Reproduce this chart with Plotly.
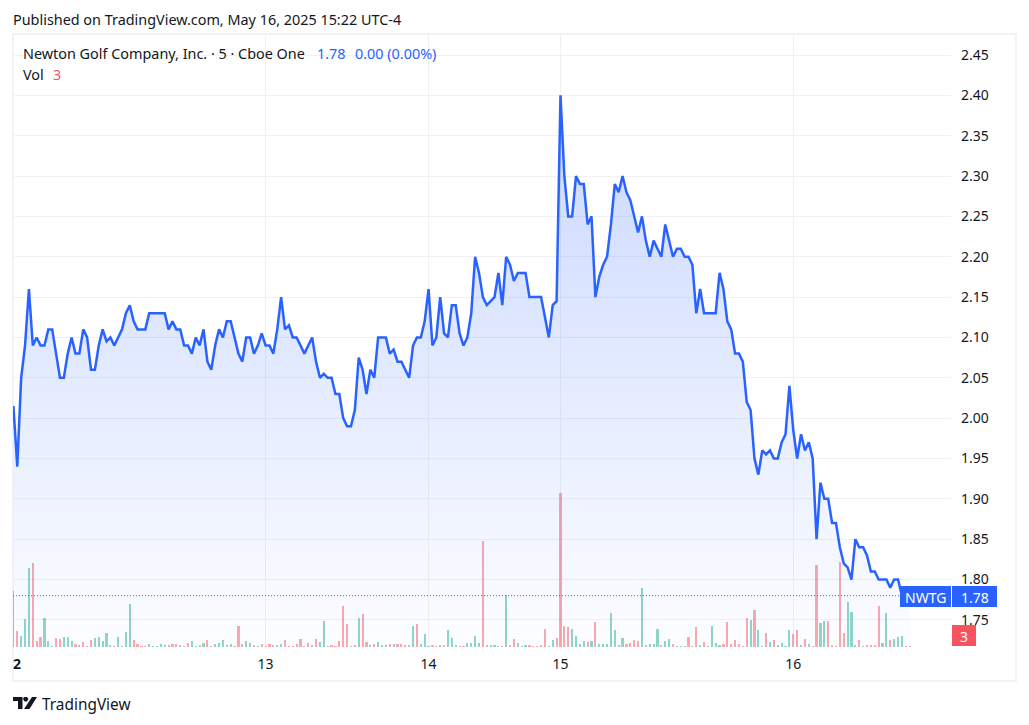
import plotly.graph_objects as go

W, H = 1029, 725

# 5 minute closes, May 12 to May 16
prices = [
    2.015, 1.94, 2.05, 2.09, 2.16, 2.09, 2.10, 2.09, 2.09, 2.11,
    2.11, 2.08, 2.05, 2.05, 2.08, 2.10, 2.08, 2.08, 2.11, 2.10,
    2.06, 2.06, 2.09, 2.11, 2.095, 2.10, 2.09, 2.10, 2.11, 2.13,
    2.14, 2.12, 2.11, 2.11, 2.11, 2.13, 2.13, 2.13, 2.13, 2.13,
    2.11, 2.12, 2.11, 2.11, 2.09, 2.09, 2.08, 2.10, 2.09, 2.11,
    2.07, 2.06, 2.09, 2.11, 2.10, 2.12, 2.12, 2.10, 2.08, 2.07,
    2.10, 2.10, 2.08, 2.09, 2.105, 2.09, 2.09, 2.08, 2.11, 2.15,
    2.11, 2.115, 2.10, 2.10, 2.09, 2.08, 2.09, 2.10, 2.07, 2.05,
    2.055, 2.05, 2.05, 2.03, 2.03, 2.00, 1.99, 1.99, 2.01, 2.075,
    2.06, 2.03, 2.06, 2.05, 2.10, 2.10, 2.10, 2.08, 2.085, 2.07,
    2.07, 2.06, 2.05, 2.09, 2.10, 2.10, 2.12, 2.16, 2.09, 2.10,
    2.15, 2.105, 2.10, 2.14, 2.14, 2.105, 2.09, 2.10, 2.13, 2.20,
    2.18, 2.15, 2.14, 2.145, 2.15, 2.18, 2.14, 2.20, 2.19, 2.17,
    2.18, 2.18, 2.18, 2.15, 2.15, 2.15, 2.15, 2.125, 2.10, 2.14,
    2.145, 2.40, 2.30, 2.25, 2.25, 2.30, 2.29, 2.29, 2.24, 2.25,
    2.15, 2.175, 2.19, 2.20, 2.24, 2.29, 2.28, 2.30, 2.28, 2.27,
    2.25, 2.23, 2.25, 2.22, 2.20, 2.22, 2.21, 2.20, 2.24, 2.22,
    2.20, 2.21, 2.21, 2.20, 2.20, 2.19, 2.13, 2.16, 2.13, 2.13,
    2.13, 2.13, 2.18, 2.16, 2.12, 2.11, 2.08, 2.08, 2.07, 2.02,
    2.01, 1.95, 1.93, 1.96, 1.955, 1.96, 1.95, 1.95, 1.97, 1.98,
    2.04, 1.985, 1.95, 1.98, 1.96, 1.97, 1.95, 1.85, 1.92, 1.90,
    1.90, 1.87, 1.87, 1.84, 1.82, 1.815, 1.80, 1.85, 1.84, 1.84,
    1.83, 1.81, 1.81, 1.80, 1.80, 1.80, 1.79, 1.80, 1.80, 1.78,
    1.78, 1.78,
]

volumes = [
    168, 48, 33, 84, 237, 252, 18, 30, 87, 18,
    2, 27, 24, 30, 30, 18, 9, 6, 15, 3,
    21, 27, 30, 18, 42, 6, 3, 30, 3, 45,
    129, 21, 9, 3, 3, 9, 3, 3, 9, 6,
    6, 9, 9, 6, 3, 12, 18, 3, 6, 12,
    21, 3, 9, 12, 21, 6, 9, 3, 63, 9,
    18, 12, 6, 3, 9, 3, 9, 6, 6, 9,
    21, 3, 3, 9, 24, 3, 12, 6, 24, 15,
    78, 3, 6, 3, 18, 123, 69, 3, 6, 87,
    99, 15, 6, 9, 15, 6, 6, 9, 9, 9,
    9, 6, 6, 63, 69, 9, 39, 3, 6, 3,
    6, 6, 51, 27, 6, 3, 3, 12, 12, 33,
    12, 318, 6, 6, 6, 3, 3, 156, 6, 24,
    12, 3, 6, 6, 3, 3, 6, 54, 3, 21,
    27, 462, 63, 60, 54, 33, 9, 18, 15, 18,
    75, 9, 9, 9, 102, 51, 6, 27, 9, 12,
    21, 18, 177, 6, 9, 9, 54, 6, 18, 24,
    9, 3, 3, 3, 30, 3, 60, 6, 15, 3,
    63, 12, 6, 9, 75, 9, 21, 9, 3, 87,
    81, 111, 51, 3, 42, 15, 21, 6, 12, 3,
    51, 39, 51, 6, 24, 9, 3, 246, 72, 78,
    78, 6, 3, 255, 42, 135, 105, 6, 21, 3,
    6, 6, 6, 123, 12, 102, 21, 24, 30, 33,
    3, 3,
]

# u = bar closed up, d = bar closed down, ten bars per string
directions = "".join([
    "uduuuddduu", "udduuududd", "duuuuuduuu", "udddduuuuu", "dddudduudu",
    "dduuuuuddd", "uududddduu", "dddddddudu", "uddddddudu", "dduduuudud",
    "ddduduuudd", "uduuudduuu", "udduuududd", "uuuddddduu", "dddduuuudu",
    "duuuuududd", "dduduuuduu", "duuudddudu", "uuuddddddd", "uduududuuu",
    "uddududduu", "ddddduuudu", "dddduuduuu", "dd",
])

day_positions = [65, 107, 141, 201]
day_labels = ["13", "14", "15", "16"]
first_day_label = "2"
price_ticks = [1.75, 1.80, 1.85, 1.90, 1.95, 2.00, 2.05, 2.10, 2.15, 2.20, 2.25, 2.30, 2.35, 2.40, 2.45]

last_price = 1.78
last_volume = "3"
ticker = "NWTG"

BLUE = "#2962ff"
RED = "#f7525f"
FRAME = "#f0f3fa"
GRID = "#f0f1f4"
INK = "#131722"


def px(x):
    return x / W


def py(y):
    return 1 - y / H


def label(x, y, text, color=INK, size=14.4, anchor="left"):
    return dict(
        x=px(x), y=py(y), xref="paper", yref="paper", text=text, showarrow=False,
        xanchor=anchor, yanchor="middle", borderpad=0, borderwidth=0,
        font=dict(color=color, size=size),
    )


def box(x0, y0, x1, y1, color):
    return dict(
        type="rect", xref="paper", yref="paper", layer="above",
        x0=px(x0), x1=px(x1), y0=py(y0), y1=py(y1),
        fillcolor=color, line=dict(width=0),
    )


def logo_path(points):
    path = "M " + " L ".join(f"{px(x)},{py(y)}" for x, y in points) + " Z"
    return dict(type="path", xref="paper", yref="paper", path=path,
                fillcolor=INK, line=dict(width=0))


x = list(range(len(prices)))

# the panel runs from y=35 to y=647 px, bars are 3.88 px apart starting at 13.4 px
price_top = 2.45 + 20 / 807
price_bottom = 2.45 - 592 / 807
left_i = (13 - 13.4) / 3.88
right_i = (951 - 13.4) / 3.88

bar_colors = ["rgba(34,171,148,0.5)" if d == "u" else "rgba(247,82,95,0.5)" for d in directions]

fig = go.Figure()
fig.add_trace(go.Bar(x=x, y=volumes, marker=dict(color=bar_colors, line=dict(width=0)), width=0.55, yaxis="y"))
fig.add_trace(go.Scatter(x=x, y=[price_bottom] * len(x), mode="lines", line=dict(width=0), yaxis="y2", hoverinfo="skip"))
fig.add_trace(go.Scatter(
    x=x, y=prices, mode="lines", yaxis="y2", fill="tonexty",
    line=dict(color=BLUE, width=2.5),
    fillgradient=dict(type="vertical", colorscale=[[0, "rgba(41,98,255,0.01)"], [1, "rgba(41,98,255,0.25)"]]),
))

shapes = [
    dict(type="rect", xref="paper", yref="paper", x0=px(13), x1=px(1016), y0=py(34), y1=py(681),
         line=dict(color=FRAME, width=2), layer="below"),
    dict(type="line", xref="x", yref="y2", x0=left_i, x1=right_i, y0=last_price, y1=last_price,
         line=dict(color=BLUE, width=1, dash="1px,2px")),
    box(900, 586, 951, 607, BLUE),
    box(952, 586, 997, 607, BLUE),
    box(952, 625, 976, 646, RED),
    # TradingView mark
    logo_path([(13, 697), (22.5, 697), (22.5, 709), (18, 709), (18, 701), (13, 701)]),
    logo_path([(37, 697), (32, 697), (24, 709), (29.5, 709)]),
    logo_path([(24, 697), (27, 697), (28.5, 699), (27, 701.5), (24.5, 701.5), (23, 699)]),
]

annotations = [
    label(13, 19, "Published on TradingView.com, May 16, 2025 15:22 UTC-4"),
    label(23, 54, "Newton Golf Company, Inc. · 5 · Cboe One"),
    label(317, 54, "1.78", color=BLUE),
    label(355, 54, "0.00 (0.00%)", color=BLUE),
    label(23, 75, "Vol"),
    label(53, 75, last_volume, color=RED),
    label(17, 663, f"<b>{first_day_label}</b>", size=14, anchor="center"),
    label(925.5, 597, ticker, color="white", size=14, anchor="center"),
    label(975, 597, f"{last_price:.2f}", color="white", size=14, anchor="center"),
    label(964, 636, last_volume, color="white", size=14, anchor="center"),
    label(42, 704, "TradingView", size=15.4),
]

fig.update_layout(
    width=W, height=H,
    margin=dict(l=0, r=0, t=0, b=0),
    paper_bgcolor="white", plot_bgcolor="white",
    showlegend=False, bargap=0,
    font=dict(family="Noto Sans", size=14, color=INK),
    shapes=shapes, annotations=annotations,
    xaxis=dict(
        domain=[px(13), px(951)], range=[left_i, right_i],
        tickvals=day_positions, ticktext=day_labels, ticklen=0,
        showgrid=True, gridcolor=GRID, zeroline=False, showline=False,
        ticklabelstandoff=7,
    ),
    yaxis=dict(
        domain=[py(647), py(35)], range=[0, 1836],
        showgrid=False, zeroline=False, showticklabels=False, ticklen=0,
    ),
    yaxis2=dict(
        overlaying="y", side="right", range=[price_bottom, price_top],
        tickvals=price_ticks, tickformat=".2f", ticklen=0,
        showgrid=True, gridcolor=GRID, zeroline=False, showline=False,
        ticklabelstandoff=9,
    ),
)

fig.write_html("out.html", config=dict(displayModeBar=False), post_script="document.body.style.margin='0';")
